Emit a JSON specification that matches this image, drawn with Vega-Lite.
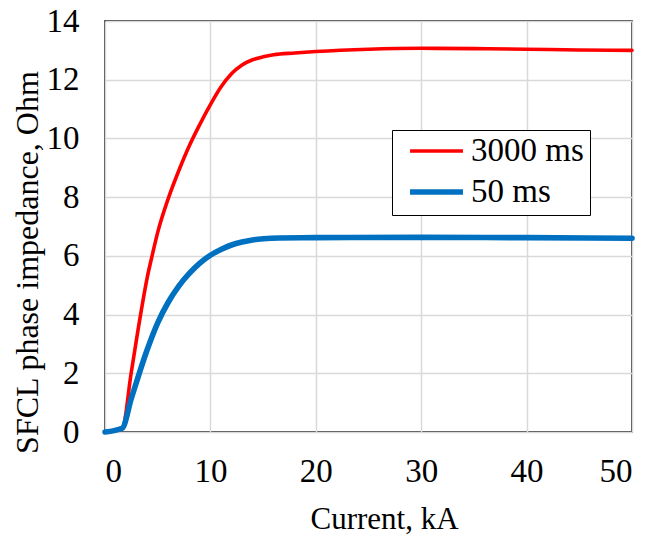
{
  "$schema": "https://vega.github.io/schema/vega-lite/v6.json",
  "width": 527,
  "height": 411,
  "autosize": "none",
  "padding": {"left": 105, "top": 21, "right": 16, "bottom": 106},
  "background": "white",
  "config": {
    "font": "Liberation Serif, Times New Roman, serif",
    "view": {"stroke": "black", "strokeWidth": 1.5}
  },
  "data": {"values": [
    {"I": 0, "Z": 0, "s": "3000 ms"},
    {"I": 1.63, "Z": 0.12, "s": "3000 ms"},
    {"I": 2.5, "Z": 2.05, "s": "3000 ms"},
    {"I": 3.4, "Z": 4.05, "s": "3000 ms"},
    {"I": 4.0, "Z": 5.25, "s": "3000 ms"},
    {"I": 4.5, "Z": 6.05, "s": "3000 ms"},
    {"I": 5, "Z": 6.8, "s": "3000 ms"},
    {"I": 6, "Z": 7.95, "s": "3000 ms"},
    {"I": 7, "Z": 8.9, "s": "3000 ms"},
    {"I": 8, "Z": 9.75, "s": "3000 ms"},
    {"I": 9, "Z": 10.48, "s": "3000 ms"},
    {"I": 10, "Z": 11.15, "s": "3000 ms"},
    {"I": 11, "Z": 11.75, "s": "3000 ms"},
    {"I": 12, "Z": 12.2, "s": "3000 ms"},
    {"I": 13, "Z": 12.5, "s": "3000 ms"},
    {"I": 14, "Z": 12.68, "s": "3000 ms"},
    {"I": 15, "Z": 12.78, "s": "3000 ms"},
    {"I": 16, "Z": 12.85, "s": "3000 ms"},
    {"I": 18, "Z": 12.91, "s": "3000 ms"},
    {"I": 20, "Z": 12.96, "s": "3000 ms"},
    {"I": 25, "Z": 13.04, "s": "3000 ms"},
    {"I": 30, "Z": 13.07, "s": "3000 ms"},
    {"I": 35, "Z": 13.06, "s": "3000 ms"},
    {"I": 40, "Z": 13.04, "s": "3000 ms"},
    {"I": 45, "Z": 13.01, "s": "3000 ms"},
    {"I": 50, "Z": 13.0, "s": "3000 ms"},
    {"I": 0, "Z": 0, "s": "50 ms"},
    {"I": 1.63, "Z": 0.13, "s": "50 ms"},
    {"I": 2.5, "Z": 1.15, "s": "50 ms"},
    {"I": 3.25, "Z": 2.0, "s": "50 ms"},
    {"I": 4, "Z": 2.8, "s": "50 ms"},
    {"I": 5, "Z": 3.72, "s": "50 ms"},
    {"I": 6, "Z": 4.42, "s": "50 ms"},
    {"I": 7, "Z": 4.97, "s": "50 ms"},
    {"I": 8, "Z": 5.4, "s": "50 ms"},
    {"I": 9, "Z": 5.75, "s": "50 ms"},
    {"I": 10, "Z": 6.02, "s": "50 ms"},
    {"I": 11, "Z": 6.22, "s": "50 ms"},
    {"I": 12, "Z": 6.37, "s": "50 ms"},
    {"I": 13, "Z": 6.47, "s": "50 ms"},
    {"I": 14, "Z": 6.54, "s": "50 ms"},
    {"I": 15, "Z": 6.58, "s": "50 ms"},
    {"I": 16.5, "Z": 6.61, "s": "50 ms"},
    {"I": 20, "Z": 6.62, "s": "50 ms"},
    {"I": 30, "Z": 6.63, "s": "50 ms"},
    {"I": 40, "Z": 6.62, "s": "50 ms"},
    {"I": 50, "Z": 6.6, "s": "50 ms"}
  ]},
  "mark": {"type": "line", "interpolate": "monotone", "strokeCap": "round", "strokeJoin": "round"},
  "encoding": {
    "x": {"field": "I", "type": "quantitative", "scale": {"domain": [0, 50], "nice": false},
      "axis": {"values": [0, 10, 20, 30, 40, 50], "title": "Current, kA", "labelPadding": 23,
        "titleX": 279, "titleY": 96, "titleBaseline": "alphabetic",
        "gridColor": "#d9d9d9", "gridWidth": 1.5, "domain": false, "ticks": false,
        "labelFont": "Liberation Serif, Times New Roman, serif", "titleFont": "Liberation Serif, Times New Roman, serif", "labelFontSize": 33, "titleFontSize": 31,
        "labelColor": "black", "titleColor": "black", "titleFontWeight": "normal"}},
    "y": {"field": "Z", "type": "quantitative", "scale": {"domain": [0, 14], "nice": false},
      "axis": {"values": [0, 2, 4, 6, 8, 10, 12, 14], "title": "SFCL phase impedance, Ohm", "labelPadding": 26,
        "titleX": -68, "titleY": 241, "titleBaseline": "alphabetic", "titleAngle": -90, "titleAlign": "center",
        "gridColor": "#d9d9d9", "gridWidth": 1.5, "domain": false, "ticks": false,
        "labelFont": "Liberation Serif, Times New Roman, serif", "titleFont": "Liberation Serif, Times New Roman, serif", "labelFontSize": 33, "titleFontSize": 32,
        "labelColor": "black", "titleColor": "black", "titleFontWeight": "normal"}},
    "color": {"field": "s", "type": "nominal", "sort": ["3000 ms", "50 ms"], "scale": {"domain": ["3000 ms", "50 ms"], "range": ["#ff0000", "#0070c0"]},
      "legend": {"title": null, "orient": "none", "legendX": 287, "legendY": 109, "labelFont": "Liberation Serif, Times New Roman, serif", "labelFontSize": 33, "labelColor": "black", "symbolType": "stroke", "symbolSize": 2800, "symbolStrokeWidth": 5, "symbolOffset": 9, "strokeColor": "black", "fillColor": "white", "padding": 6, "rowPadding": 8, "clipHeight": 30, "labelOffset": 5, "labelLimit": 300}},
    "strokeWidth": {"field": "s", "type": "nominal", "scale": {"domain": ["3000 ms", "50 ms"], "range": [3.6, 5.6]}, "legend": null}
  }
}
